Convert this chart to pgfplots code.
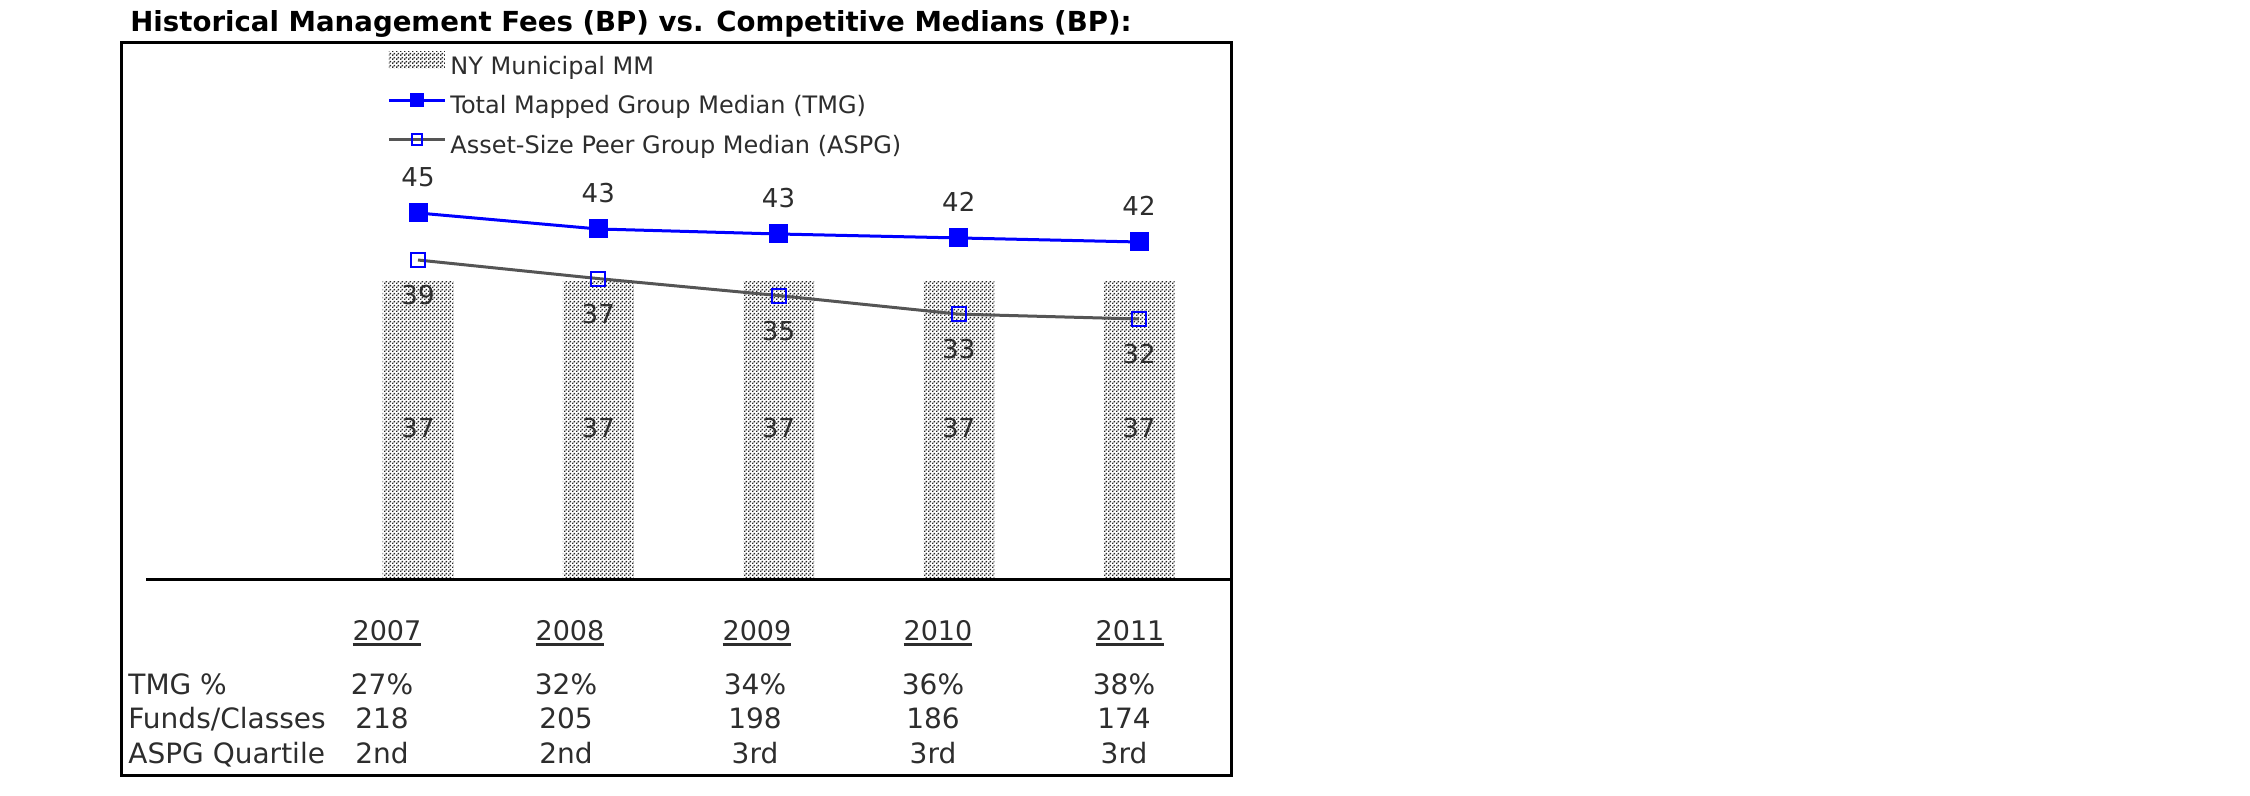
\documentclass[border=0pt]{standalone}
\usepackage{graphicx}
\usepackage{pgfplots}
\pgfplotsset{compat=1.18}
\usepackage{fontspec}
\setmainfont{DejaVu Sans}
\usetikzlibrary{patterns}
\pgfdeclarepatternformonly{finedots}{\pgfqpoint{0pt}{0pt}}{\pgfqpoint{2pt}{2pt}}{\pgfqpoint{2pt}{2pt}}{%
  \pgfpathrectangle{\pgfqpoint{0pt}{0pt}}{\pgfqpoint{0.9pt}{0.9pt}}%
  \pgfpathrectangle{\pgfqpoint{1pt}{1pt}}{\pgfqpoint{0.9pt}{0.9pt}}%
  \pgfusepath{fill}}
\definecolor{tmgblue}{RGB}{0,0,255}
\definecolor{aspggray}{RGB}{85,85,85}
\definecolor{txt}{RGB}{45,45,45}
\newcommand\ul[1]{\setbox0\hbox{#1}\rlap{\rule[-3pt]{\wd0}{1.5pt}}\box0}
\newcommand\tabfont{\fontsize{14}{14}\selectfont}
\tikzset{yr/.style={anchor=base, font=\fontsize{13.5}{14}\selectfont, text=txt, inner sep=0pt},
  tb/.style={anchor=base, font=\tabfont, text=txt, inner sep=0pt},
  tbl/.style={anchor=base west, font=\tabfont, text=txt, inner sep=0pt}}
\pgfplotsset{
  barleg/.style={legend image code/.code={\fill[##1] (0pt,-1pt) rectangle (28pt,7.5pt);}},
  lineleg/.style={legend image code/.code={\draw[mark repeat=2,mark phase=2,##1,mark size=2.6pt] plot coordinates {(0pt,3pt) (14pt,3pt) (28pt,3pt)};}},
}
\begin{document}
\begin{tikzpicture}
\useasboundingbox (-61pt,-10pt) rectangle (1064pt,388pt);
\begin{axis}[
  at={(0pt,0pt)}, anchor=south west,
  scale only axis, width=554.5pt, height=366.5pt,
  xmin=-1.6422, xmax=4.5104, ymin=-24.257, ymax=66.46,
  xtick=\empty, ytick=\empty,
  axis line style={line width=1.5pt, black},
  clip=false,
  legend style={at={(axis cs:-0.172,65.4)}, anchor=north west, draw=none, fill=none,
    inner sep=0pt, row sep=5pt, font=\fontsize{12}{12}\selectfont, text=txt,
    /tikz/every even column/.append style={column sep=3pt}},
  legend cell align=left,
]
% NY Municipal MM bars
\addplot[ybar, bar width=35.5pt, draw=none, pattern=finedots, pattern color=black!85,
  nodes near coords, point meta=explicit symbolic,
  every node near coord/.append style={anchor=center, yshift=-73.5pt, font=\fontsize{13}{13}\selectfont, text=txt},
  barleg]
  coordinates {(0,37)[37] (1,37)[37] (2,37)[37] (3,37)[37] (4,37)[37]};
\addlegendentry{NY Municipal MM}
% TMG
\addplot[tmgblue, line width=1.5pt, mark=square*, mark size=4pt, mark options={solid},
  nodes near coords, point meta=explicit symbolic,
  every node near coord/.append style={anchor=center, yshift=18pt, font=\fontsize{13}{13}\selectfont, text=txt},
  lineleg]
  coordinates {(0,45.42)[45] (1,43.44)[43] (2,42.82)[43] (3,42.33)[42] (4,41.83)[42]};
\addlegendentry{Total Mapped Group Median (TMG)}
% ASPG
\addplot[aspggray, line width=1.5pt, mark=square, mark size=3.5pt, mark options={draw=tmgblue, line width=1pt, solid},
  nodes near coords, point meta=explicit symbolic,
  every node near coord/.append style={anchor=center, yshift=-17.5pt, font=\fontsize{13}{13}\selectfont, text=txt},
  lineleg]
  coordinates {(0,39.6)[39] (1,37.3)[37] (2,35.2)[35] (3,32.9)[33] (4,32.3)[32]};
\addlegendentry{Asset-Size Peer Group Median (ASPG)}
% baseline
\draw[line width=1.5pt] (axis cs:-1.509,0) -- (axis cs:4.5104,0);
% title
\node[anchor=base west, font=\fontsize{13.8}{14}\selectfont\bfseries, inner sep=0pt] at (axis cs:-1.598,67.82)
  {Historical Management Fees (BP) vs. Competitive Medians (BP):};
% years
\node[yr] at (axis cs:-0.172,-7.43) {\ul{2007}};
\node[yr] at (axis cs:0.8433,-7.43) {\ul{2008}};
\node[yr] at (axis cs:1.8807,-7.43) {\ul{2009}};
\node[yr] at (axis cs:2.8849,-7.43) {\ul{2010}};
\node[yr] at (axis cs:3.9501,-7.43) {\ul{2011}};
% table rows
\node[tbl] at (axis cs:-1.6089,-14.23) {TMG \%};
\node[tbl] at (axis cs:-1.6089,-18.44) {Funds/Classes};
\node[tbl] at (axis cs:-1.6089,-22.65) {ASPG Quartile};
\node[tb] at (axis cs:-0.1997,-14.23) {27\%};
\node[tb] at (axis cs:0.8211,-14.23) {32\%};
\node[tb] at (axis cs:1.8696,-14.23) {34\%};
\node[tb] at (axis cs:2.8571,-14.23) {36\%};
\node[tb] at (axis cs:3.9168,-14.23) {38\%};
\node[tb] at (axis cs:-0.1997,-18.44) {218};
\node[tb] at (axis cs:0.8211,-18.44) {205};
\node[tb] at (axis cs:1.8696,-18.44) {198};
\node[tb] at (axis cs:2.8571,-18.44) {186};
\node[tb] at (axis cs:3.9168,-18.44) {174};
\node[tb] at (axis cs:-0.1997,-22.65) {2nd};
\node[tb] at (axis cs:0.8211,-22.65) {2nd};
\node[tb] at (axis cs:1.8696,-22.65) {3rd};
\node[tb] at (axis cs:2.8571,-22.65) {3rd};
\node[tb] at (axis cs:3.9168,-22.65) {3rd};
\end{axis}
\end{tikzpicture}
\end{document}
